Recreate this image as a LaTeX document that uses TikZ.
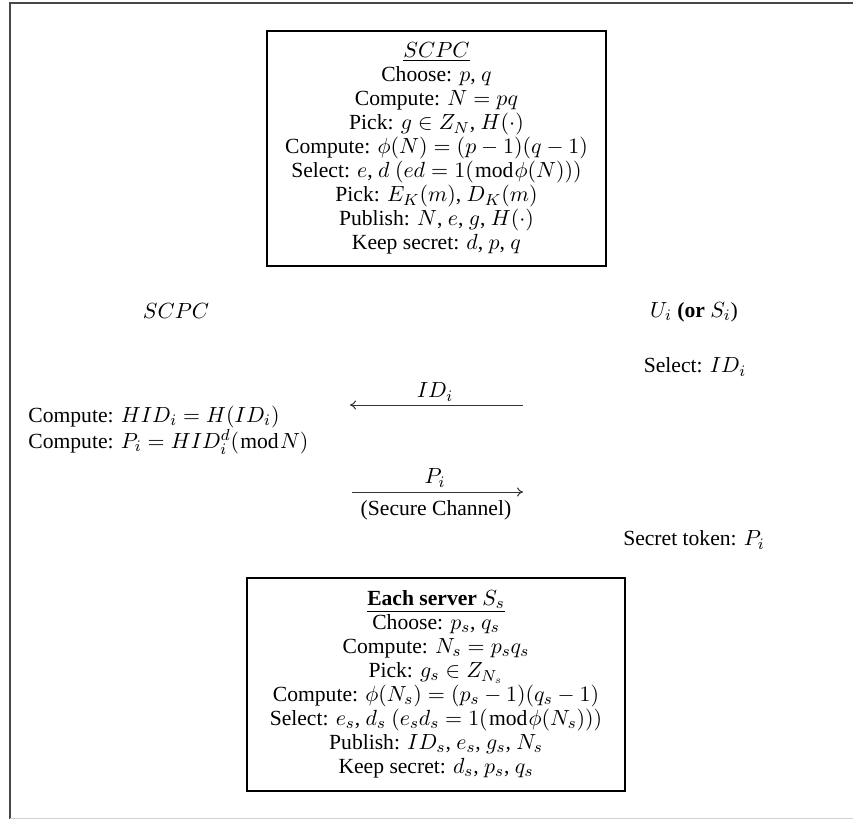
\documentclass[tikz,border=0pt]{standalone}
\usepackage{fontspec}
\setmainfont{Liberation Serif}
\usetikzlibrary{arrows.meta}
\newcommand{\diagfont}{\fontsize{10.8}{12}\selectfont}
\tikzset{
  txt/.style={inner sep=0pt, font=\diagfont},
  panel/.style={draw=black, line width=0.65pt, align=center, inner sep=0pt, font=\diagfont},
  msg/.style={-{To[length=3pt,width=4.5pt]}, line width=0.5pt, draw=black!80},
  framedark/.style={line width=1pt, draw=black!72},
  framelight/.style={line width=0.5pt, draw=black!18},
}
\begin{document}
\begin{tikzpicture}[x=0.5pt, y=-0.5pt]
\useasboundingbox (0,0) rectangle (853,819);
% outer frame
\draw[framedark] (10,819) -- (10,3) -- (853,3);
\draw[framelight] (10,818) -- (853,818);

% setup box
\node[panel, minimum width=169.5pt, minimum height=117.5pt] (setup) at (436.5,148.5)
 {$\underline{SCPC}$\\
  Choose: $p$, $q$\\
  Compute: $N=pq$\\
  Pick: $g\in Z_N$, $H(\cdot)$\\
  Compute: $\phi(N)=(p-1)(q-1)$\\
  Select: $e$, $d$ $(ed=1(\bmod\phi(N)))$\\
  Pick: $E_K(m)$, $D_K(m)$\\
  Publish: $N$, $e$, $g$, $H(\cdot)$\\
  Keep secret: $d$, $p$, $q$};

% parties
\node[txt] (scpc) at (176,311) {$SCPC$};
\node[txt] (user) at (694,312) {$U_i$ \textbf{(or} $S_i$)};
\node[txt] (sel) at (695,367) {Select: $ID_i$};

% message 1
\coordinate (m1s) at (523,405);
\coordinate (m1e) at (350,405);
\draw[msg] (m1s) -- (m1e);
\node[txt] (m1l) at (435,392) {$ID_i$};

% SCPC computations
\node[txt, anchor=west, align=left] (comp) at (28,430)
 {Compute: $HID_i=H(ID_i)$\\
  Compute: $P_i=HID_i^d(\bmod N)$};

% message 2
\coordinate (m2s) at (352,492);
\coordinate (m2e) at (523,492);
\draw[msg] (m2s) -- (m2e);
\node[txt] (m2l) at (435,478) {$P_i$};
\node[txt] (m2c) at (436,510) {(Secure Channel)};

\node[txt] (tok) at (694,540) {Secret token: $P_i$};

% server box
\node[panel, minimum width=189pt, minimum height=106.5pt] (server) at (436,684.5)
 {\underline{\textbf{Each server} $S_s$}\\
  Choose: $p_s$, $q_s$\\
  Compute: $N_s=p_sq_s$\\
  Pick: $g_s\in Z_{N_s}$\\
  Compute: $\phi(N_s)=(p_s-1)(q_s-1)$\\
  Select: $e_s$, $d_s$ $(e_sd_s=1(\bmod\phi(N_s)))$\\
  Publish: $ID_s$, $e_s$, $g_s$, $N_s$\\
  Keep secret: $d_s$, $p_s$, $q_s$};
\end{tikzpicture}
\end{document}
